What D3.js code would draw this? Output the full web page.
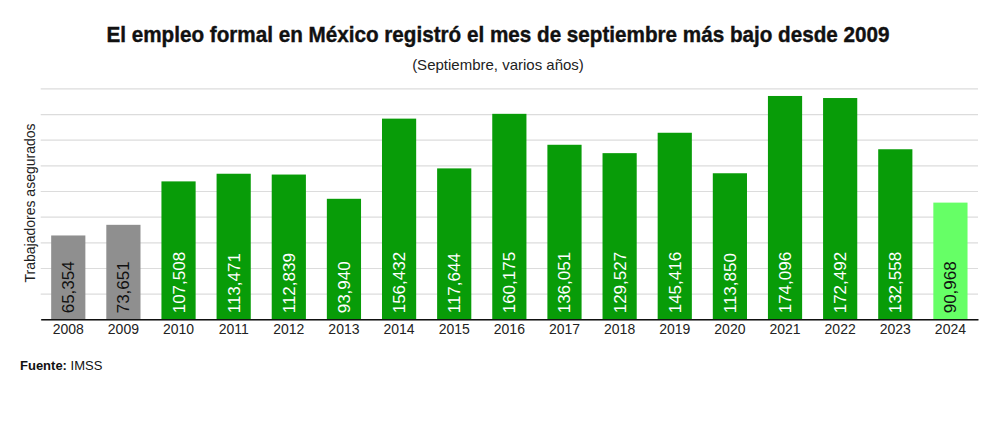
<!DOCTYPE html>
<html>
<head>
<meta charset="utf-8">
<script src="https://cdn.jsdelivr.net/npm/d3@7"></script>
<style>
  body { margin: 0; background: #fff; }
  text { font-family: "Liberation Sans", Arial, sans-serif; }
</style>
</head>
<body>
<div class="chart"></div>
<script>
var years = ["2008","2009","2010","2011","2012","2013","2014","2015","2016","2017","2018","2019","2020","2021","2022","2023","2024"];
var values = [65354, 73651, 107508, 113471, 112839, 93940, 156432, 117644, 160175, 136051, 129527, 145416, 113850, 174096, 172492, 132558, 90968];
var yTicks = [0, 20000, 40000, 60000, 80000, 100000, 120000, 140000, 160000, 180000];

var svgWidth = 1000;
var svgHeight = 431;

var margin = { top: 88.4, right: 22, bottom: 111.7, left: 40.7 };
var width = svgWidth - margin.left - margin.right;
var height = svgHeight - margin.top - margin.bottom;

var svg = d3.select(".chart")
  .append("svg")
  .attr("width", svgWidth)
  .attr("height", svgHeight);

// titles
svg.append("text")
  .attr("x", 498)
  .attr("y", 42)
  .attr("text-anchor", "middle")
  .attr("font-size", 22)
  .attr("font-weight", "bold")
  .attr("fill", "#111")
  .attr("stroke", "#111")
  .attr("stroke-width", 0.4)
  .attr("textLength", 783)
  .attr("lengthAdjust", "spacingAndGlyphs")
  .text("El empleo formal en México registró el mes de septiembre más bajo desde 2009");

svg.append("text")
  .attr("x", 498)
  .attr("y", 70)
  .attr("text-anchor", "middle")
  .attr("font-size", 15)
  .attr("fill", "#222")
  .text("(Septiembre, varios años)");

var chartGroup = svg.append("g")
  .attr("transform", `translate(${margin.left}, ${margin.top})`);

var xScale = d3.scaleBand()
  .domain(years)
  .range([0, width])
  .paddingInner(0.38)
  .paddingOuter(0.19);

var yScale = d3.scaleLinear()
  .domain([0, 180000])
  .range([height, 0]);

// gridlines
chartGroup.append("g")
  .call(d3.axisLeft(yScale).tickValues(yTicks).tickSize(-width).tickFormat(""))
  .call(g => g.select(".domain").remove())
  .call(g => g.selectAll(".tick line").attr("stroke", "#dcdcdc").attr("stroke-width", 1.2));

function barColor(d, i) {
  if (i < 2) return "#8f8f8f";
  if (i === years.length - 1) return "#66ff66";
  return "#089c08";
}

chartGroup.selectAll("rect.bar")
  .data(values)
  .enter()
  .append("rect")
  .attr("class", "bar")
  .attr("x", (d, i) => xScale(years[i]))
  .attr("y", d => yScale(d))
  .attr("width", xScale.bandwidth())
  .attr("height", d => height - yScale(d))
  .attr("fill", barColor);

// x axis
var bottomAxis = d3.axisBottom(xScale).tickSize(0).tickPadding(5);
chartGroup.append("g")
  .attr("transform", `translate(0, ${height})`)
  .call(bottomAxis)
  .call(g => g.select(".domain").attr("stroke", "#111").attr("stroke-width", 1.5))
  .call(g => g.selectAll(".tick text")
    .attr("font-family", "Liberation Sans, Arial, sans-serif")
    .attr("font-size", 14)
    .attr("fill", "#222"));

// value labels inside bars
chartGroup.selectAll("text.val")
  .data(values)
  .enter()
  .append("text")
  .attr("class", "val")
  .attr("transform", (d, i) => `translate(${xScale(years[i]) + xScale.bandwidth() / 2 + 6}, ${height - 6}) rotate(-90)`)
  .attr("font-size", 17)
  .attr("fill", (d, i) => (i < 2 || i === years.length - 1) ? "#111" : "#fff")
  .text(d => d3.format(",")(d));

// y axis title
svg.append("text")
  .attr("transform", "translate(35, 203) rotate(-90)")
  .attr("text-anchor", "middle")
  .attr("font-size", 14)
  .attr("fill", "#222")
  .text("Trabajadores asegurados");

// source
var src = svg.append("text")
  .attr("x", 20)
  .attr("y", 370)
  .attr("font-size", 13)
  .attr("fill", "#111");
src.append("tspan").attr("font-weight", "bold").text("Fuente: ");
src.append("tspan").text("IMSS");
</script>
</body>
</html>
